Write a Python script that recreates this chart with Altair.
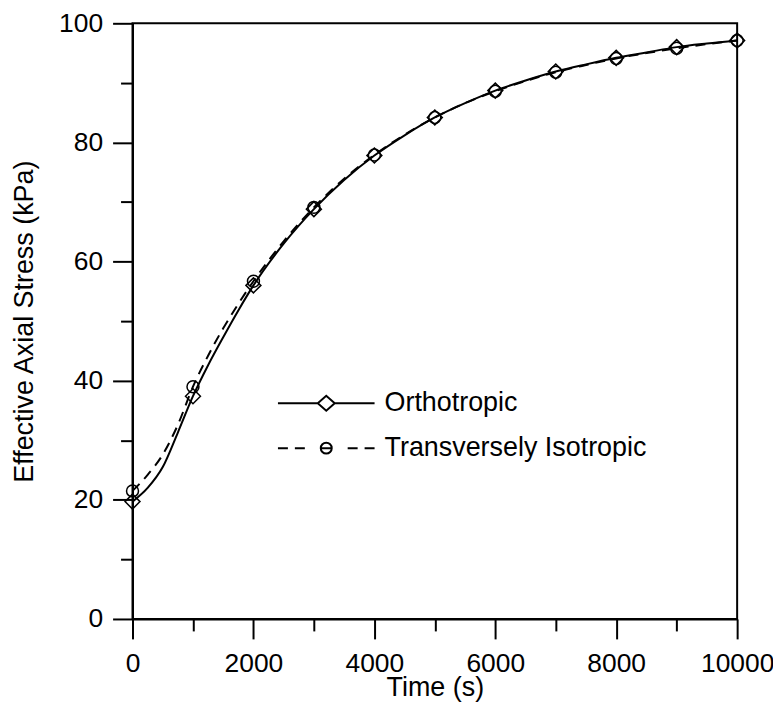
import altair as alt
import pandas as pd

# ---- data ----
time_s = [0, 250, 500, 750, 1000, 1250, 1500, 1750, 2000, 2500, 3000, 3500, 4000,
          4500, 5000, 5500, 6000, 6500, 7000, 7500, 8000, 8500, 9000, 9500, 10000]
orthotropic = [19.7, 22.0, 25.5, 31.3, 37.4, 42.6, 47.3, 51.8, 56.0, 63.0, 68.8, 73.7, 77.8,
               81.2, 84.2, 86.6, 88.7, 90.4, 91.9, 93.1, 94.2, 95.1, 96.0, 96.6, 97.1]
trans_iso = [21.5, 24.2, 27.6, 32.6, 39.0, 44.2, 48.8, 52.9, 56.7, 63.4, 69.1, 73.9, 77.9,
             81.3, 84.2, 86.6, 88.6, 90.3, 91.8, 93.0, 94.1, 95.0, 95.8, 96.5, 97.1]
series_names = ["Orthotropic", "Transversely Isotropic"]
x_ticks = list(range(0, 10001, 1000))
y_ticks = list(range(0, 101, 10))

rows = []
for t, a, b in zip(time_s, orthotropic, trans_iso):
    rows.append({"time": t, "stress": a, "series": series_names[0]})
    rows.append({"time": t, "stress": b, "series": series_names[1]})
df = pd.DataFrame(rows)

FONT = "Liberation Sans"

# legend symbols: line + marker (pixel units, symbol size 4 -> scale 1)
PATH_ORTHO = "M-48.5,0H-8.5M8.5,0H48.5M-8.5,0L0,-7.5L8.5,0L0,7.5Z"
PATH_TRANS = ("M-48.5,0H-38.5M-31.5,0H-21.5M-5.5,0H5.5M21.5,0H31.5M38.5,0H48.5"
              "M-5.5,0A5.5,5.5,0,1,0,5.5,0A5.5,5.5,0,1,0,-5.5,0")

x_enc = alt.X(
    "time:Q",
    scale=alt.Scale(domain=[0, 10000], nice=False, zero=False),
    axis=alt.Axis(
        title="Time (s)",
        values=x_ticks,
        tickSize={"condition": {"test": "datum.value % 2000 === 0", "value": 20}, "value": 12},
        labelExpr="datum.value % 2000 === 0 ? datum.label : ''",
        format="d",
        labelPadding=12,
        titlePadding=-3,
        labelFlush=False,
        labelOverlap=False,
    ),
)
y_enc = alt.Y(
    "stress:Q",
    scale=alt.Scale(domain=[0, 100], nice=False),
    axis=alt.Axis(
        title="Effective Axial Stress (kPa)",
        values=y_ticks,
        tickSize={"condition": {"test": "datum.value % 20 === 0", "value": 20}, "value": 12},
        labelExpr="datum.value % 20 === 0 ? datum.label : ''",
        labelPadding=10,
        titlePadding=20,
        labelFlush=False,
        labelOverlap=False,
    ),
)

base = alt.Chart(df)

line_ortho = base.transform_filter(
    f"datum.series === '{series_names[0]}'"
).mark_line(strokeWidth=2, color="black", interpolate="monotone").encode(x=x_enc, y=y_enc)

line_trans = base.transform_filter(
    f"datum.series === '{series_names[1]}'"
).mark_line(strokeWidth=2, color="black", interpolate="monotone", strokeDash=[10, 7]).encode(
    x=x_enc, y=y_enc
)

circles = base.transform_filter(
    f"datum.time % 1000 === 0 && datum.series === '{series_names[1]}'"
).mark_point(shape="circle", size=144, filled=False, color="black", strokeWidth=1.5, opacity=1).encode(
    x=x_enc, y=y_enc
)

diamonds = base.transform_filter(
    f"datum.time % 1000 === 0 && datum.series === '{series_names[0]}'"
).mark_point(shape="diamond", size=225, filled=False, color="black", strokeWidth=1.5, opacity=1).encode(
    x=x_enc, y=y_enc
)

legend_layer = base.mark_point(
    filled=False, color="black", strokeWidth=2, size=4, opacity=0
).encode(
    x=x_enc,
    y=y_enc,
    shape=alt.Shape(
        "series:N",
        scale=alt.Scale(domain=series_names, range=[PATH_ORTHO, PATH_TRANS]),
        legend=alt.Legend(
            title=None,
            orient="none",
            legendX=181,
            legendY=368,
            padding=0,
            labelFont=FONT,
            labelFontSize=27,
            labelColor="black",
            labelOffset=45,
            labelLimit=500,
            rowPadding=17,
            symbolSize=4,
            symbolStrokeWidth=2,
            symbolStrokeColor="black",
            symbolOpacity=1,
        ),
    ),
)

chart = (
    alt.layer(line_trans, line_ortho, circles, diamonds, legend_layer)
    .properties(
        width=607,
        height=598,
        autosize=alt.AutoSizeParams(type="none"),
        padding={"left": 125, "top": 14, "right": 36, "bottom": 83},
        background="white",
    )
    .configure_view(stroke="black", strokeWidth=2)
    .configure_axis(
        grid=False,
        domainColor="black",
        domainWidth=2,
        tickColor="black",
        tickWidth=2,
        labelFont=FONT,
        labelFontSize=26.5,
        labelColor="black",
        titleFont=FONT,
        titleFontSize=27,
        titleFontWeight="normal",
        titleColor="black",
    )
)

chart.save("out.html", embed_options={"renderer": "svg", "actions": False})
